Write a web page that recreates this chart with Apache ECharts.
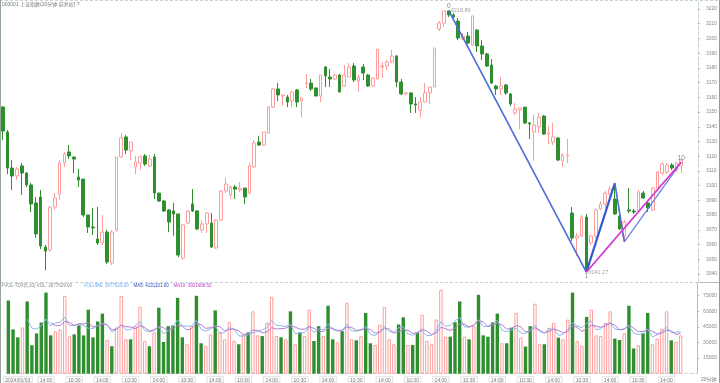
<!DOCTYPE html>
<html><head><meta charset="utf-8">
<script src="https://cdn.jsdelivr.net/npm/echarts@6/dist/echarts.min.js"></script>
<style>html,body{margin:0;padding:0;background:#fff}#c{width:720px;height:383px}</style>
</head><body><div id="c"></div>
<script>
// ---- data ----
const days = ['01/03','01/04','01/05','01/08','01/09','01/10','01/11','01/12','01/15','01/16','01/17','01/18'];
const slots = ['09:50','10:10','10:30','10:50','11:10','11:30','13:20','13:40','14:00','14:20','14:40','15:00'];
const openP = [3153.4,3136.5,3112.0,3106.6,3113.4,3108.6,3100.5,3088.2,3092.3,3058.3,
3056.3,3085.5,3094.3,3115.4,3122.9,3119.5,3105.9,3104.5,3080.1,3071.9,
3063.8,3061.1,3068.5,3047.5,3069.9,3119.5,3133.1,3123.6,3112.7,3115.4,
3120.2,3113.4,3119.5,3095.0,3089.6,3083.5,3082.8,3080.8,3050.9,3074.6,
3087.6,3082.8,3069.9,3074.0,3074.6,3057.7,3076.7,3096.4,3093.7,3099.1,
3097.1,3098.4,3095.0,3112.7,3129.7,3127.6,3135.8,3153.4,3165.7,3160.9,
3160.2,3157.5,3165.0,3157.5,3169.4,3169.7,3166.4,3160.9,3180.6,3173.8,
3172.5,3175.2,3167.7,3173.8,3181.3,3171.1,3180.6,3175.2,3167.7,3172.5,
3180.6,3181.3,3184.0,3188.1,3170.4,3162.3,3163.0,3155.5,3151.4,3156.8,
3163.0,3167.0,3206.4,3210.5,3218.7,3216.0,3211.8,3199.6,3201.7,3195.6,
3205.7,3194.9,3189.5,3182.0,3167.7,3165.7,3168.4,3162.3,3149.4,3151.4,
3153.4,3142.6,3136.5,3139.9,3147.3,3135.1,3129.7,3132.4,3116.8,3120.2,
3081.4,3064.4,3065.8,3078.7,3061.1,3065.8,3084.2,3087.6,3094.3,3090.9,
3079.4,3065.8,3083.5,3082.8,3082.8,3095.0,3088.2,3083.5,3098.4,3108.6,
3109.3,3114.0,3110.7,3113.4];
const closeP = [3137.1,3112.0,3106.6,3111.3,3108.6,3100.5,3087.6,3067.2,3059.0,3055.6,
3085.5,3091.6,3115.4,3121.5,3120.2,3118.1,3103.9,3080.1,3071.9,3071.3,
3061.1,3068.5,3048.2,3068.5,3119.5,3132.4,3124.2,3129.7,3116.1,3119.5,
3114.7,3118.1,3095.0,3089.6,3082.8,3075.3,3080.8,3052.9,3073.3,3082.8,
3082.8,3070.6,3074.0,3081.4,3058.3,3076.7,3096.4,3101.1,3099.1,3097.7,
3098.4,3092.3,3113.4,3129.0,3127.6,3136.5,3153.4,3165.7,3161.6,3161.6,
3156.8,3163.6,3156.8,3159.6,3169.7,3165.7,3160.9,3175.2,3174.5,3172.5,
3175.2,3163.6,3175.2,3180.6,3171.8,3173.8,3176.5,3167.7,3173.1,3192.8,
3181.3,3184.0,3188.1,3170.4,3162.3,3163.0,3155.5,3154.8,3156.8,3163.0,
3167.0,3193.5,3210.5,3218.7,3216.0,3214.6,3200.3,3201.7,3196.9,3215.3,
3194.9,3189.5,3181.3,3169.7,3165.7,3167.7,3163.0,3155.5,3152.1,3152.8,
3142.6,3141.9,3141.2,3146.6,3135.1,3135.8,3133.1,3117.4,3120.8,3120.8,
3064.4,3065.8,3078.7,3042.7,3065.8,3083.5,3087.6,3095.0,3097.7,3080.8,
3070.6,3075.3,3082.8,3082.1,3095.7,3091.6,3084.8,3098.4,3109.3,3114.7,
3114.0,3112.0,3115.4,3117.4];
const lowP = [3131.0,3107.9,3097.1,3103.9,3093.7,3099.1,3082.1,3064.5,3057.0,3042.5,
3054.9,3083.5,3090.3,3112.7,3118.1,3108.6,3099.1,3078.7,3067.9,3066.5,
3059.7,3059.7,3046.8,3046.1,3068.5,3118.8,3121.5,3117.4,3107.9,3110.7,
3113.4,3112.7,3091.0,3088.9,3082.1,3068.5,3066.0,3051.5,3049.5,3074.0,
3082.1,3069.9,3067.9,3067.9,3057.7,3057.0,3076.0,3095.0,3091.0,3091.0,
3095.7,3087.6,3094.3,3112.0,3127.0,3127.0,3135.1,3152.7,3157.5,3154.1,
3153.4,3153.4,3153.4,3146.6,3166.4,3164.3,3160.9,3156.8,3167.0,3167.0,
3171.8,3163.6,3167.0,3173.8,3170.4,3163.6,3171.8,3167.0,3167.0,3172.5,
3173.1,3178.6,3183.3,3167.0,3161.6,3161.6,3149.4,3149.4,3146.0,3156.8,
3155.5,3167.0,3205.0,3207.8,3214.6,3213.2,3198.9,3198.9,3196.2,3194.9,
3190.8,3185.4,3180.6,3169.1,3161.6,3161.6,3161.6,3154.1,3148.0,3138.5,
3141.9,3131.7,3116.8,3135.8,3134.4,3128.3,3127.6,3116.8,3112.7,3115.4,
3062.4,3052.2,3065.1,3041.27,3059.7,3064.4,3083.5,3084.9,3093.0,3080.1,
3069.9,3061.8,3081.4,3080.8,3082.1,3091.0,3082.1,3082.8,3097.7,3107.2,
3107.9,3110.7,3109.3,3108.6];
const highP = [3154.1,3137.8,3117.4,3112.7,3115.4,3109.3,3101.8,3092.3,3097.1,3059.7,
3086.2,3095.0,3117.4,3122.9,3127.6,3119.5,3111.3,3104.5,3080.1,3084.8,
3085.5,3080.1,3069.9,3069.9,3119.5,3135.8,3134.4,3129.7,3120.2,3120.8,
3121.5,3120.8,3121.5,3095.0,3090.3,3084.2,3088.2,3080.8,3074.0,3083.5,
3097.7,3083.5,3076.7,3082.1,3081.4,3077.4,3097.1,3105.2,3100.5,3100.5,
3102.5,3098.4,3115.4,3131.0,3133.7,3136.5,3154.1,3166.4,3169.7,3162.3,
3161.6,3164.3,3165.7,3159.6,3175.9,3172.5,3166.4,3175.2,3181.3,3179.3,
3175.9,3175.9,3182.0,3183.3,3183.3,3175.2,3182.7,3175.9,3173.8,3192.8,
3184.0,3185.4,3192.2,3188.8,3172.5,3163.6,3163.6,3160.2,3160.2,3169.7,
3167.0,3193.5,3211.8,3218.7,3218.89,3217.3,3213.9,3203.7,3204.4,3215.3,
3206.4,3198.9,3190.1,3186.0,3168.4,3173.8,3169.1,3163.0,3156.2,3152.8,
3153.4,3143.3,3148.0,3149.4,3148.0,3140.5,3142.6,3133.1,3122.2,3131.7,
3085.5,3067.9,3080.1,3080.8,3066.5,3084.8,3089.6,3096.4,3099.8,3101.8,
3080.1,3076.7,3098.4,3084.2,3097.1,3096.4,3089.6,3099.1,3110.0,3116.1,
3115.4,3115.4,3116.1,3118.1];
const volume = [70350,42530,34940,44430,69400,27340,38740,49180,77940,36840,
40630,42530,74810,35890,37790,46330,36840,61520,34940,50130,
57720,32370,26390,44430,74810,33040,33040,45670,64370,31420,
26390,39680,63420,30480,45670,46330,72910,34940,28290,45670,
74810,29240,26680,37790,60860,39680,33040,49460,31420,28290,
37790,39680,59910,36840,36170,49180,73860,36170,34940,33040,
59910,28290,39680,36170,61520,31420,45670,36170,65320,33040,
30190,40920,68170,33040,32090,36000,58390,29240,27630,47280,
64080,33040,28290,47280,54210,27630,27630,39400,56770,31420,
28290,52030,80510,35600,35600,49460,69400,35600,33040,45670,
75760,36840,35600,49460,57720,29240,29240,44150,58390,34650,
26110,45670,67220,28290,28290,44150,48890,34650,33040,52030,
77940,31420,26680,54590,61520,36840,36170,48890,59910,33700,
32370,38740,65320,24210,27340,38740,58390,28290,33700,43200,
59910,32090,30480,36776];
const priceTicks = [3040,3050,3060,3070,3080,3090,3100,3110,3120,3130,3140,3150,3160,3170,3180,3190,3200,3210,3220];
const volTicks = [15000,30000,45000,60000,75000];
const pivotIdx = [94,123,129,131,143];
const pivotVal = [3218.89,3041.27,3101.8,3061.8,3116.0];
const pivotTag = ['0','1','','','10'];

// ---- build ----
const cats = [];
days.forEach(d => slots.forEach(s => cats.push(d + ' ' + s)));
const PAD = 3;
for (let i = 0; i < PAD; i++) cats.push('');
const kData = openP.map((o, i) => [o, closeP[i], lowP[i], highP[i]]);
const volData = volume.map((v, i) => ({
  value: v,
  itemStyle: closeP[i] >= openP[i]
    ? { color: '#ffffff', borderColor: '#ff9c9c', borderWidth: 1 }
    : { color: '#2f8f2f', borderColor: '#2f8f2f', borderWidth: 0 }
}));
function ma(n) {
  return volume.map((v, i) => {
    if (i < n - 1) return '-';
    let s = 0; for (let j = i - n + 1; j <= i; j++) s += volume[j];
    return +(s / n).toFixed(1);
  });
}
const seg = (a, b) => [[pivotIdx[a], pivotVal[a]], [pivotIdx[b], pivotVal[b]]];
const lineSeries = (data, color, width) => ({
  type: 'line', xAxisIndex: 0, yAxisIndex: 0, data, symbol: 'none', silent: true,
  lineStyle: { color, width }, z: 5, animation: false
});

const FONT = 'Liberation Sans, Noto Sans CJK SC, sans-serif';
const chart = echarts.init(document.getElementById('c'), null, { renderer: 'canvas' });
const W = 698;
chart.setOption({
  animation: false,
  backgroundColor: '#ffffff',
  grid: [
    { left: 0.3, top: 1, width: W, height: 281 },
    { left: 0.3, top: 282.5, width: W, height: 92.3 }
  ],
  xAxis: [
    { type: 'category', gridIndex: 0, data: cats, boundaryGap: true,
      axisLine: { show: false }, axisTick: { show: false }, axisLabel: { show: false }, splitLine: { show: false } },
    { type: 'category', gridIndex: 1, data: cats, boundaryGap: true,
      axisLine: { show: true, lineStyle: { color: '#d8d8d8', type: 'dashed', width: 1 } },
      axisTick: { show: false }, splitLine: { show: false },
      axisLabel: {
        show: true, fontSize: 5, color: '#777', fontFamily: FONT, margin: 3,
        borderColor: '#cfcfcf', borderWidth: 0.6, padding: [1, 2, 0, 2],
        interval: (i, v) => { const t = v.split(' ')[1]; return t === '10:30' || t === '14:00'; },
        formatter: (v, i) => i === 2 ? '2024/' + v.split(' ')[0] : v.split(' ')[1]
      } }
  ],
  yAxis: [
    { type: 'value', gridIndex: 0, position: 'right', min: 3034.57, max: 3225.45,
      splitLine: { show: false },
      axisLine: { show: true, lineStyle: { color: '#c8d4dc', type: 'dashed' } },
      axisTick: { show: true, length: 2, customValues: priceTicks, lineStyle: { color: '#e0a0a0' } },
      axisLabel: { customValues: priceTicks, formatter: v => String(v), fontSize: 5, color: '#888', fontFamily: FONT, margin: 8 } },
    { type: 'value', gridIndex: 1, position: 'right', min: 0, max: 87630,
      splitLine: { show: false },
      axisLine: { show: true, lineStyle: { color: '#bbbbbb' } },
      axisTick: { show: true, length: 2, customValues: volTicks, lineStyle: { color: '#e0a0a0' } },
      axisLabel: { customValues: volTicks, formatter: v => String(v), fontSize: 5, color: '#888', fontFamily: FONT, margin: 6 } }
  ],
  series: [
    { type: 'candlestick', xAxisIndex: 0, yAxisIndex: 0, data: kData, barWidth: 3.2,
      itemStyle: { color: '#ffffff', color0: '#2f8f2f', borderColor: '#ff9c9c', borderColor0: '#2f8f2f', borderWidth: 1 } },
    { type: 'bar', xAxisIndex: 1, yAxisIndex: 1, data: volData, barWidth: 3.4 },
    { type: 'line', xAxisIndex: 1, yAxisIndex: 1, data: ma(5), symbol: 'none', smooth: false,
      lineStyle: { color: '#8bb9ee', width: 1 }, z: 4 },
    { type: 'line', xAxisIndex: 1, yAxisIndex: 1, data: ma(10), symbol: 'none', smooth: false,
      lineStyle: { color: '#b57ccc', width: 1 }, z: 4 },
    lineSeries(seg(0, 1), '#4c6cd8', 1.6),
    lineSeries(seg(1, 2), '#3556cc', 2.2),
    lineSeries(seg(2, 3), '#4c6cd8', 1.6),
    lineSeries(seg(3, 4), '#5a78dc', 1.1),
    lineSeries(seg(1, 4), '#d23cd2', 1.6),
    { type: 'scatter', xAxisIndex: 0, yAxisIndex: 0, symbolSize: 0, silent: true, z: 6,
      data: pivotIdx.map((x, i) => ({ value: [x, pivotVal[i]],
        label: { show: pivotTag[i] !== '', formatter: pivotTag[i], position: i === 1 ? 'bottom' : 'top',
          distance: 1, fontSize: 6.5, color: '#666', fontFamily: FONT } })) },
    { type: 'scatter', xAxisIndex: 0, yAxisIndex: 0, symbolSize: 0, silent: true, z: 6,
      data: [0, 1].map(i => ({ value: [pivotIdx[i], pivotVal[i]],
        label: { show: true, formatter: pivotVal[i].toFixed(2), position: 'right',
          distance: 2, fontSize: 5.5, color: '#888', fontFamily: FONT } })) }
  ],
  graphic: [
    { type: 'line', shape: { x1: 0, y1: 0.5, x2: 720, y2: 0.5 }, style: { stroke: '#c4d4de', lineDash: [3, 2], lineWidth: 1 } },
    { type: 'line', shape: { x1: 0, y1: 282.5, x2: 699, y2: 282.5 }, style: { stroke: '#c4d4de', lineDash: [3, 2], lineWidth: 1 } },
    { type: 'line', shape: { x1: 699, y1: 282.5, x2: 720, y2: 282.5 }, style: { stroke: '#bbbbbb', lineWidth: 1 } },
    { type: 'line', shape: { x1: 0.5, y1: 0, x2: 0.5, y2: 383 }, style: { stroke: '#98a898', lineWidth: 1 } },
    { type: 'line', shape: { x1: 719.5, y1: 0, x2: 719.5, y2: 383 }, style: { stroke: '#999999', lineWidth: 1 } },
    { type: 'text', left: 2, top: 2.5, style: { text: '000001 上证指数(20分钟 前复权) ?', fontSize: 5, fill: '#777', fontFamily: FONT } },
    { type: 'group', left: 1.5, top: 283.5, children: [
      { type: 'text', x: 0, y: 0, style: { text: 'FVOL-TDX(5,10) VOL: 3677629.00', fontSize: 4.5, fill: '#888', fontFamily: FONT } },
      { type: 'text', x: 82, y: 0, style: { text: 'VOLUME: 3677629.00', fontSize: 4.5, fill: '#6aaaf0', fontFamily: FONT } },
      { type: 'text', x: 132, y: 0, style: { text: 'MA5: 4131101.00', fontSize: 4.5, fill: '#2c4cc8', fontFamily: FONT } },
      { type: 'text', x: 172, y: 0, style: { text: 'MA10: 3921688.50', fontSize: 4.5, fill: '#c040c8', fontFamily: FONT } }
    ] },
    { type: 'text', left: 701, top: 377, style: { text: '20分钟', fontSize: 5, fill: '#777', fontFamily: FONT } }
  ]
});
</script></body></html>
